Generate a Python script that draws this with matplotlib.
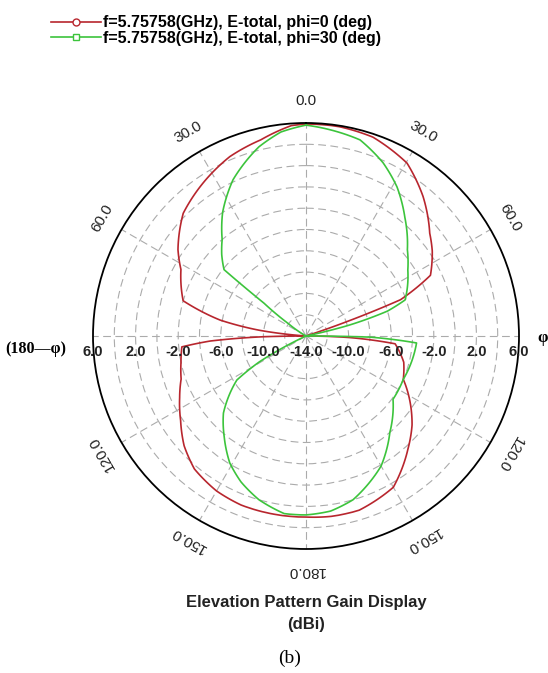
import matplotlib
matplotlib.use("Agg")
import matplotlib.pyplot as plt
from matplotlib.lines import Line2D
import numpy as np

# gain in dBi vs theta (deg, clockwise from top; 180..360 is the 180-phi side)
red_theta = [0, 9, 18.6, 30.3, 40, 50.3, 56, 64, 69, 70.5, 72, 90, 92, 95, 105, 114,
             122, 130, 138, 150, 163, 172, 180, 190, 201, 210, 220, 228, 236, 244, 251,
             258, 265, 267, 269, 270, 274, 277, 280.5, 286, 298, 304, 315, 327, 337,
             347, 356, 360]
red_db = [5.9, 5.9, 5.7, 4.8, 3.1, 1.1, 0.3, -1.0, -4.5, -9.6, -14, -14, -10, -5.6, -4.5, -4.0,
          -2.5, -1.0, 0.3, 2.4, 3.1, 3.1, 3.0, 3.0, 3.0, 2.8, 2.3, 1.4, 0.2, -0.8, -1.6,
          -2.0, -2.3, -5, -10, -14, -14, -9.6, -5.8, -2.0, -0.7, 0.5, 2.3, 3.4, 4.3,
          4.9, 5.8, 5.9]

green_theta = [0, 15.4, 24, 31.4, 39.8, 49.6, 57, 64, 70, 73, 76, 78, 90, 91, 93.6, 114, 126,
               139, 150, 164, 172, 180, 187, 196, 204, 211, 219, 227, 237.5, 241, 245, 300,
               305, 308, 309, 314, 319, 326, 335, 346, 353, 360]
green_db = [5.8, 5.1, 3.8, 2.4, 0.5, -1.5, -2.6, -3.4, -4.1, -6, -10, -14, -14, -8, -3.6, -4.0,
            -3.9, -2.0, 0.1, 2.0, 2.6, 2.8, 2.8, 2.0, 1.0, -0.1, -1.8, -3.4, -6.3, -9, -14,
            -14, -12, -9, -4.1, -3.0, -2.0, 0.0, 2.2, 4.3, 5.3, 5.8]

series_labels = ["f=5.75758(GHz), E-total, phi=0 (deg)",
                 "f=5.75758(GHz), E-total, phi=30 (deg)"]
series_colors = ["#b8262e", "#3cc43c"]

r_min, r_max = -14, 6
radial_labels = [6.0, 2.0, -2.0, -6.0, -10.0]
theta_labels = {0: "0.0", 30: "30.0", 60: "60.0", 120: "120.0", 150: "150.0",
                180: "180.0", 210: "150.0", 240: "120.0", 300: "60.0", 330: "30.0"}

W, H = 548, 673
fig = plt.figure(figsize=(W / 100, H / 100), dpi=100)
cx, cy, rad = 306, 336, 213
ax = fig.add_axes([(cx - rad) / W, (H - cy - rad) / H, 2 * rad / W, 2 * rad / H],
                  projection="polar")
ax.set_theta_zero_location("N")
ax.set_theta_direction(-1)
ax.set_rlim(r_min, r_max)
ax.set_rticks(np.arange(-12, 6, 2))
ax.set_yticklabels([])
ax.set_thetagrids(range(0, 360, 30), labels=[""] * 12)
ax.grid(color="#ababab", linestyle=(0, (7, 4)), linewidth=0.8)
ax.spines["polar"].set_color("black")
ax.spines["polar"].set_linewidth(1.3)

for th, db, c in [(red_theta, red_db, series_colors[0]), (green_theta, green_db, series_colors[1])]:
    ln, = ax.plot(np.deg2rad(th), np.maximum(db, r_min), color=c, lw=1.2)
    ln.get_path()._interpolation_steps = 12  # draw segments as arcs in polar space

# angle labels, rotated along the rim
for ang, txt in theta_labels.items():
    ax.text(np.deg2rad(ang), 8.1, txt, rotation=-ang, rotation_mode="anchor",
            ha="center", va="center", fontsize=11, family="Liberation Sans", color="#222222")

# radial labels along the horizontal axis, both sides
ylab = 0.5 - 16 / (2 * rad)
for v in radial_labels:
    f = (v - r_min) / (r_max - r_min) * 0.5
    for x in (0.5 - f, 0.5 + f):
        ax.text(x, ylab, "%.1f" % v, transform=ax.transAxes, ha="center", va="center",
                fontsize=10.5, fontweight="bold", family="Liberation Sans", color="#222222")
ax.text(0.5, ylab, "%.1f" % r_min, transform=ax.transAxes, ha="center", va="center",
        fontsize=10.5, fontweight="bold", family="Liberation Sans", color="#222222")

fig.text(36 / W, 1 - 349 / H, "(180\u2014\u03c6)", ha="center", va="center",
         fontsize=11.5, fontweight="bold", family="Liberation Serif")
fig.text(537 / W, 1 - 338 / H, "\u03c6", ha="left", va="center",
         fontsize=12, fontweight="bold", family="Liberation Serif")

handles = [Line2D([], [], color=series_colors[0], lw=1.2, marker="o", mfc="white", ms=5),
           Line2D([], [], color=series_colors[1], lw=1.2, marker="s", mfc="white", ms=5)]
fig.legend(handles, series_labels, loc="upper left", bbox_to_anchor=(40 / W, 1 - 4 / H),
           frameon=False, prop={"family": "Liberation Sans", "weight": "bold", "size": 11.5},
           handlelength=3.1, handletextpad=0.15, labelspacing=0.05, borderpad=0.2)

fig.text(306 / W, 1 - 603 / H, "Elevation Pattern Gain Display", ha="center", va="center",
         fontsize=12, fontweight="bold", family="Liberation Sans", color="#222222")
fig.text(306 / W, 1 - 624 / H, "(dBi)", ha="center", va="center",
         fontsize=12, fontweight="bold", family="Liberation Sans", color="#222222")
fig.text(290 / W, 1 - 658 / H, "(b)", ha="center", va="center",
         fontsize=14, family="Liberation Serif")

fig.savefig("out.png", dpi=100)
